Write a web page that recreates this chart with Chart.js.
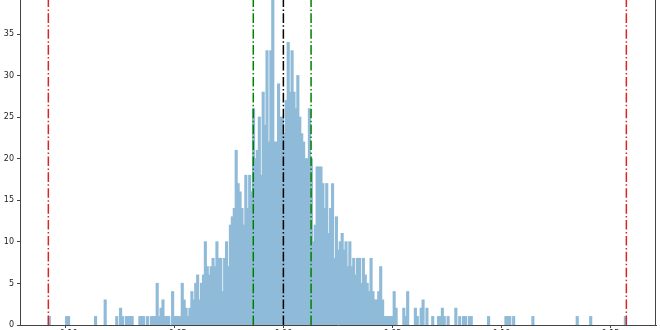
<!DOCTYPE html>
<html>
<head>
<meta charset="utf-8">
<script src="https://cdn.jsdelivr.net/npm/chart.js@4"></script>
<style>
  html, body { margin: 0; padding: 0; background: #fff; overflow: hidden; }
  #wrap { position: absolute; left: 0; top: -24px; width: 660px; height: 380px; }
</style>
</head>
<body>
<div id="wrap"><canvas id="hist"></canvas></div>
<script>
// histogram: 300 bins between data min and data max
const binMin = -0.1078
const binMax = 0.1573
const counts = [
    1, 0, 0, 0, 0, 0, 0, 0, 0, 1,
    1, 0, 0, 0, 0, 0, 0, 0, 0, 0,
    0, 0, 0, 0, 1, 0, 0, 0, 0, 3,
    0, 0, 0, 0, 0, 1, 0, 2, 1, 0,
    1, 1, 1, 1, 0, 0, 0, 1, 1, 1,
    0, 1, 0, 1, 1, 1, 5, 1, 2, 3,
    1, 1, 1, 0, 4, 1, 1, 1, 1, 5,
    3, 2, 1, 2, 4, 3, 5, 6, 3, 5,
    6, 10, 7, 6, 7, 8, 7, 10, 8, 8,
    4, 8, 10, 7, 12, 13, 14, 21, 17, 16,
    14, 12, 18, 14, 18, 16, 26, 20, 21, 25,
    18, 28, 24, 33, 22, 33, 40, 22, 22, 29,
    25, 25, 23, 27, 34, 28, 33, 28, 26, 30,
    25, 23, 22, 20, 20, 26, 20, 10, 12, 19,
    19, 19, 17, 14, 17, 11, 14, 17, 8, 13,
    9, 10, 11, 9, 10, 7, 10, 7, 8, 6,
    8, 8, 5, 8, 6, 5, 4, 8, 4, 3,
    3, 4, 7, 3, 1, 1, 1, 1, 1, 4,
    2, 0, 0, 0, 2, 1, 4, 0, 0, 0,
    2, 1, 0, 2, 3, 0, 2, 0, 0, 1,
    0, 0, 1, 1, 2, 1, 0, 1, 0, 0,
    0, 2, 0, 1, 0, 1, 1, 0, 1, 1,
    0, 0, 0, 0, 0, 0, 0, 0, 1, 0,
    0, 0, 0, 0, 0, 0, 0, 1, 1, 1,
    0, 1, 0, 0, 0, 0, 0, 0, 0, 0,
    0, 1, 0, 0, 0, 0, 0, 0, 0, 0,
    0, 0, 0, 0, 0, 0, 0, 0, 0, 0,
    0, 0, 0, 0, 1, 0, 0, 0, 0, 0,
    0, 1, 0, 0, 0, 0, 0, 0, 0, 0,
    0, 0, 0, 0, 0, 0, 0, 0, 0, 1
]

// vertical reference lines: min, -std, mean, +std, max
const lineValues = [-0.1078, -0.0138, 0.0, 0.0127, 0.1573]
const lineColors = ['#d62728', '#008000', '#000000', '#008000', '#d62728']

const xTickStep = 0.05
const yTickStep = 5

const binWidth = (binMax - binMin) / counts.length
const barData = counts.map((c, i) => ({ x: binMin + (i + 0.5) * binWidth, y: c }))

const lineSets = lineValues.map((v, i) => ({
    type: 'line',
    data: [{ x: v, y: 0 }, { x: v, y: 42 }],
    borderColor: lineColors[i],
    borderWidth: 1.5,
    borderDash: [9.6, 2.4, 1.5, 2.4],
    pointRadius: 0,
    fill: false,
    order: 1
}))

const fmt = v => {
    const s = Math.abs(v).toFixed(2)
    return v < -1e-9 ? '\u2212' + s : s
}

// right spine (matplotlib box)
const rightSpine = {
    id: 'rightSpine',
    afterDraw(chart) {
        const { ctx, chartArea } = chart
        ctx.save()
        ctx.strokeStyle = '#444'
        ctx.lineWidth = 1
        ctx.beginPath()
        ctx.moveTo(Math.round(chartArea.right) - 0.5, chartArea.top)
        ctx.lineTo(Math.round(chartArea.right) - 0.5, chartArea.bottom)
        ctx.stroke()
        ctx.restore()
    }
}

const ctx = document.querySelector('#hist').getContext('2d')

new Chart(ctx, {
    type: 'bar',
    data: {
        datasets: [{
            type: 'bar',
            data: barData,
            backgroundColor: '#8fbbd9',
            borderWidth: 0,
            barPercentage: 1.0,
            categoryPercentage: 1.0,
            // close the hairline seams between neighbouring bins, but not for empty bins
            inflateAmount: c => (c.raw && c.raw.y > 0 ? 0.6 : 0),
            grouped: false,
            order: 2
        }, ...lineSets]
    },
    options: {
        responsive: true,
        maintainAspectRatio: false,
        animation: false,
        devicePixelRatio: 1,
        layout: { padding: { left: 0, right: 4, top: 0, bottom: 0 } },
        plugins: { legend: { display: false }, tooltip: { enabled: false } },
        scales: {
            x: {
                type: 'linear',
                min: -0.1208,
                max: 0.1709,
                offset: false,
                z: 1,
                afterFit: sc => { sc.height = 31; sc.paddingLeft = 0; sc.paddingRight = 0 },
                ticks: {
                    stepSize: xTickStep,
                    includeBounds: false,
                    autoSkip: false,
                    maxRotation: 0,
                    padding: 1,
                    color: '#222',
                    font: { family: 'DejaVu Sans', size: 8 },
                    callback: v => fmt(v)
                },
                grid: { offset: false, drawOnChartArea: false, drawTicks: true, tickLength: 3, tickColor: '#444' },
                border: { display: true, color: '#444', width: 1 }
            },
            y: {
                min: 0,
                max: 42,
                z: 1,
                afterFit: sc => { sc.width = 20; sc.paddingTop = 0; sc.paddingBottom = 0 },
                ticks: {
                    stepSize: yTickStep,
                    includeBounds: false,
                    padding: 3,
                    color: '#222',
                    font: { family: 'DejaVu Sans', size: 8 },
                    callback: v => String(v)
                },
                grid: { drawOnChartArea: false, drawTicks: true, tickLength: 3, tickColor: '#444' },
                border: { display: true, color: '#444', width: 1 }
            }
        }
    },
    plugins: [rightSpine]
})
</script>
</body>
</html>
